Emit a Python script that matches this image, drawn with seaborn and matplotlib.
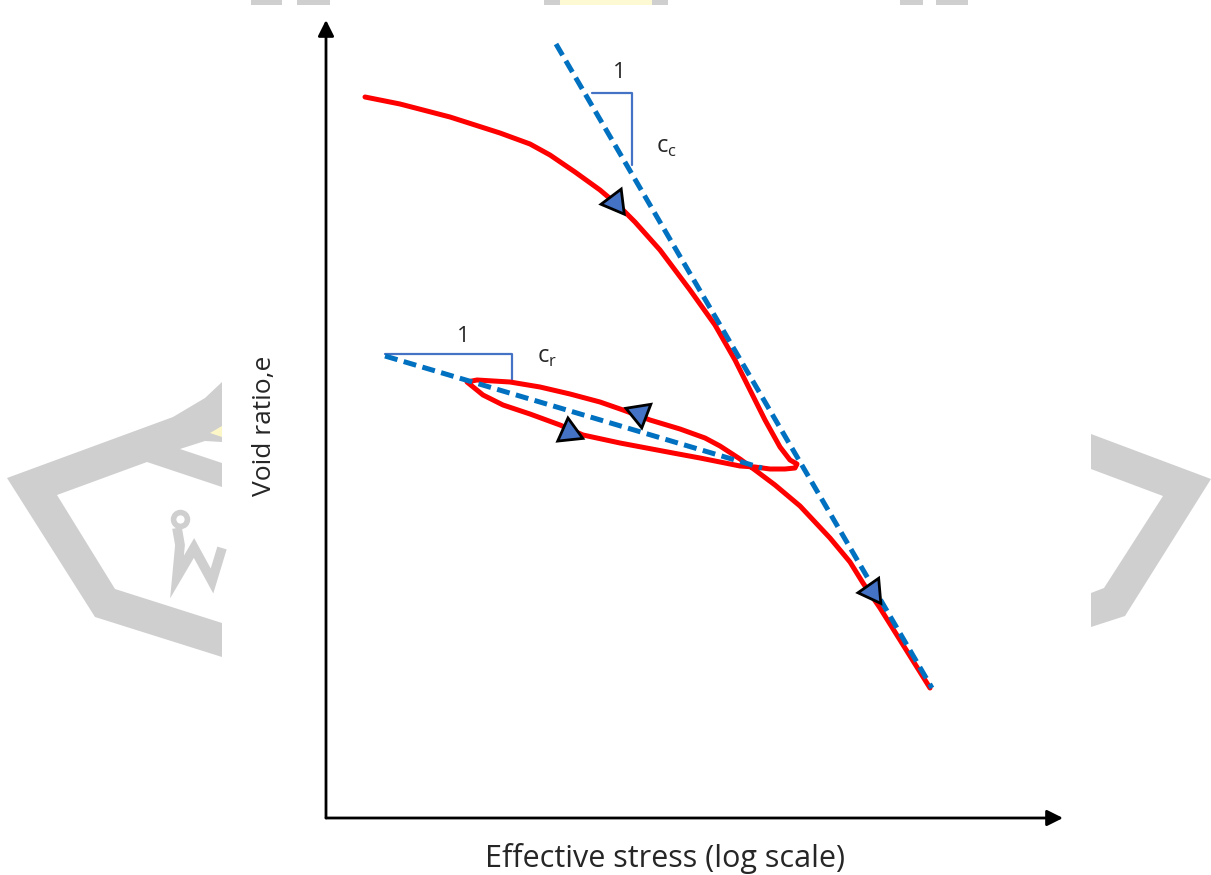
import numpy as np
import pandas as pd
import matplotlib.pyplot as plt
import seaborn as sns

# data (units: 1 = 100 px of the drawing, origin at the axis corner) -------------
# loading curve -> unloading/reloading loop -> continued virgin curve
curve_x = [0.39, 0.74, 1.24, 1.74, 2.04, 2.24, 2.49, 2.74, 2.94, 3.09, 3.34, 3.64, 3.89,
           4.09, 4.24, 4.39, 4.54, 4.64, 4.71, 4.69, 4.59, 4.44, 4.29, 4.14, 3.74,
           3.47, 2.94, 2.57, 2.34, 2.04, 1.77, 1.57, 1.41, 1.51, 1.84, 2.14, 2.44,
           2.74, 2.97, 3.24, 3.54, 3.79, 3.94, 4.14, 4.29, 4.49, 4.74, 5.04, 5.24,
           5.37, 5.54, 5.74, 5.89, 6.04]
curve_e = [7.21, 7.14, 7.01, 6.85, 6.74, 6.63, 6.46, 6.28, 6.11, 5.96, 5.68, 5.28, 4.93,
           4.58, 4.28, 3.98, 3.71, 3.58, 3.54, 3.50, 3.49, 3.49, 3.51, 3.52, 3.60,
           3.65, 3.75, 3.83, 3.93, 4.04, 4.13, 4.23, 4.36, 4.38, 4.36, 4.31, 4.24,
           4.16, 4.08, 3.98, 3.89, 3.80, 3.72, 3.59, 3.48, 3.33, 3.12, 2.80, 2.56,
           2.35, 2.10, 1.78, 1.54, 1.30]

# compression index line (Cc) and recompression line (Cr)
cc_x = [2.30, 6.06]
cc_e = [7.74, 1.30]
cr_x = [0.59, 4.36]
cr_e = [4.62, 3.50]

# slope triangles
cc_tri_x = [2.66, 3.06, 3.06]
cc_tri_e = [7.25, 7.25, 6.53]
cr_tri_x = [0.59, 1.86, 1.86]
cr_tri_e = [4.64, 4.64, 4.36]

# direction arrows on the curve (position, rotation of triangle)
arrow_x = [2.89, 3.13, 2.43, 5.46]
arrow_e = [6.16, 4.05, 3.86, 2.27]
arrow_rot = [97, 69, 246, 95]

# background watermark shapes (figure pixels)
wm_left = [(7, 478), (173, 417), (205, 398), (222, 382), (222, 487), (147, 462),
           (57, 495), (115, 589), (222, 623), (222, 657), (95, 617)]
wm_gap = [(180, 449), (205, 441), (222, 442), (222, 463)]
wm_right = [(1091, 434), (1211, 479), (1125, 616), (1091, 627), (1091, 593),
            (1104, 588), (1163, 496), (1091, 469)]
wm_letter = [(177, 528), (180, 545), (177, 577), (194, 548), (212, 581), (222, 548)]
top_bars = [(251, 282), (297, 330), (544, 560), (652, 668), (900, 923), (936, 968)]

RED = "#ff0000"
BLUE = "#0070c0"
TRI = "#4472c4"
WM = "#cfcfcf"

sns.set_style("white")
plt.rcParams["font.family"] = ["Open Sans", "DejaVu Sans"]

fig = plt.figure(figsize=(12.11, 8.75), dpi=100)

# watermark layer -------------------------------------------------------------
bg = fig.add_axes([0, 0, 1, 1], zorder=0)
bg.set_xlim(0, 1211)
bg.set_ylim(875, 0)
bg.axis("off")
bg.fill(*zip(*wm_left), color=WM, lw=0)
bg.fill(*zip(*wm_gap), color="white", lw=0)
bg.fill([210, 222, 222], [433, 426, 437], color="#fdf7c8", lw=0)
bg.fill(*zip(*wm_right), color=WM, lw=0)
bg.plot(*zip(*wm_letter), color=WM, lw=7, solid_capstyle="butt", solid_joinstyle="miter")
bg.plot([180], [519], "o", mfc="none", mec=WM, mew=4, ms=10)
for a, b in top_bars:
    bg.fill([a, b, b, a], [0, 0, 5, 5], color=WM, lw=0)
bg.fill([560, 652, 652, 560], [0, 0, 5, 5], color="#fdf9d2", lw=0)

# main chart --------------------------------------------------------------------
ax = fig.add_axes([326 / 1211, 57 / 875, 736 / 1211, 798 / 875], zorder=1)
ax.patch.set_alpha(0)
ax.set_xlim(0, 7.36)
ax.set_ylim(0, 7.98)
for s in ax.spines.values():
    s.set_visible(False)
ax.set_xticks([])
ax.set_yticks([])

# axis arrows
arrow_kw = dict(arrowstyle="-|>", lw=2, color="black", mutation_scale=24,
                shrinkA=0, shrinkB=0)
ax.annotate("", xy=(7.37, 0), xytext=(0, 0), arrowprops=arrow_kw, annotation_clip=False)
ax.annotate("", xy=(0, 7.98), xytext=(0, 0), arrowprops=arrow_kw, annotation_clip=False)

df = pd.DataFrame({"x": curve_x, "e": curve_e})
sns.lineplot(data=df, x="x", y="e", sort=False, estimator=None, color=RED,
             lw=3.6, ax=ax, zorder=3)

sns.lineplot(x=cc_x, y=cc_e, sort=False, estimator=None, color=BLUE, lw=3.6,
             ax=ax, zorder=4)
sns.lineplot(x=cr_x, y=cr_e, sort=False, estimator=None, color=BLUE, lw=3.6,
             ax=ax, zorder=4)
for line in ax.lines[-2:]:
    line.set_linestyle((0, (2.6, 1.3)))

ax.plot(cc_tri_x, cc_tri_e, color=TRI, lw=1.6, zorder=2)
ax.plot(cr_tri_x, cr_tri_e, color=TRI, lw=1.6, zorder=2)

for x, e, r in zip(arrow_x, arrow_e, arrow_rot):
    ax.plot([x], [e], marker=(3, 0, r), ms=21, mfc=TRI, mec="black", mew=2,
            ls="none", zorder=5)

ax.text(2.93, 7.46, "1", fontsize=16, ha="center", va="center")
ax.text(3.30, 6.71, r"c$_\mathregular{c}$", fontsize=17, ha="left", va="center")
ax.text(1.37, 4.82, "1", fontsize=16, ha="center", va="center")
ax.text(2.11, 4.61, r"c$_\mathregular{r}$", fontsize=17, ha="left", va="center")

ax.text(3.39, -0.40, "Effective stress (log scale)", fontsize=22, ha="center", va="center")
ax.text(-0.61, 3.92, "Void ratio,e", fontsize=19, ha="center", va="center", rotation=90)

fig.savefig("out.png", dpi=100)
